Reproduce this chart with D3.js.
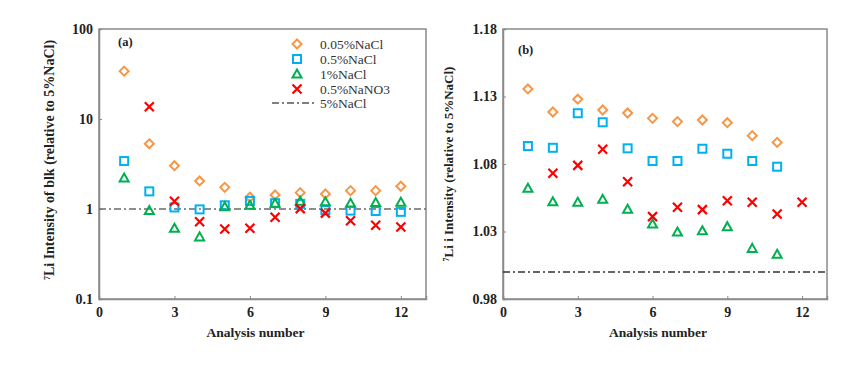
<!DOCTYPE html>
<html><head><meta charset="utf-8">
<script src="https://cdn.jsdelivr.net/npm/d3@7"></script>
<style>body{margin:0;background:#fff}svg{display:block}text{font-family:"Liberation Serif","Times New Roman",serif}</style>
</head><body><svg id="c" width="864" height="368"></svg>
<script>
const analysis = [1,2,3,4,5,6,7,8,9,10,11,12];
const seriesNames = ["0.05%NaCl","0.5%NaCl","1%NaCl","0.5%NaNO3"];
const refName = "5%NaCl";
// Panel (a): relative to 5%NaCl (blank)
const a_005NaCl = [34,5.3,3.03,2.05,1.74,1.35,1.43,1.52,1.47,1.6,1.6,1.79];
const a_05NaCl  = [3.41,1.57,1.04,0.99,1.1,1.23,1.16,1.14,0.97,0.96,0.95,0.93];
const a_1NaCl   = [2.21,0.96,0.61,0.49,1.06,1.1,1.16,1.22,1.2,1.16,1.18,1.19];
const a_05NaNO3 = [null,13.7,1.22,0.72,0.6,0.61,0.81,1.01,0.9,0.74,0.66,0.63];
// Panel (b)
const b_005NaCl = [1.1356,1.1185,1.128,1.12,1.1178,1.1138,1.1114,1.1126,1.1106,1.101,1.096,null];
const b_05NaCl  = [1.0933,1.092,1.1176,1.1109,1.0916,1.0822,1.0822,1.0913,1.0876,1.0822,1.078,null];
const b_1NaCl   = [1.062,1.0521,1.0516,1.0538,1.0464,1.0356,1.0296,1.0306,1.0336,1.0175,1.0131,null];
const b_05NaNO3 = [null,1.0731,1.079,1.0909,1.0669,1.041,1.0479,1.0462,1.0528,1.0516,1.043,1.0516];
const refValue = 1;
const xTicks = [0,3,6,9,12];
const aTicks = [0.1,1,10,100];
const aTickLabels = ["0.1","1","10","100"];
const bTicks = [0.98,1.03,1.08,1.13,1.18];
const bTickLabels = ["0.98","1.03","1.08","1.13","1.18"];

const colors = ["#F79646","#00B0F0","#00B050","#FF0000"];
const shapes = ["diamond","square","triangle","cross"];
const svg = d3.select("#c");

function marker(g, shape, color, x, y){
  if(shape==="diamond"){
    g.append("path").attr("d",`M${x},${y-4.5}L${x+4.5},${y}L${x},${y+4.5}L${x-4.5},${y}Z`)
     .attr("fill","none").attr("stroke",color).attr("stroke-width",2);
  } else if(shape==="square"){
    g.append("rect").attr("x",x-4).attr("y",y-4).attr("width",8).attr("height",8)
     .attr("fill","none").attr("stroke",color).attr("stroke-width",2);
  } else if(shape==="triangle"){
    g.append("path").attr("d",`M${x},${y-4.5}L${x+4.5},${y+3.5}L${x-4.5},${y+3.5}Z`)
     .attr("fill","none").attr("stroke",color).attr("stroke-width",2);
  } else {
    g.append("path").attr("d",`M${x-4.5},${y-4.5}L${x+4.5},${y+4.5}M${x-4.5},${y+4.5}L${x+4.5},${y-4.5}`)
     .attr("fill","none").attr("stroke",color).attr("stroke-width",2.2);
  }
}

function panel(opt){
  const {left,right,top,bottom,y,series,ticks,tickLabels,label,ytitle,ytitleX,ytitleY,ytitleSize,refStroke} = opt;
  const x = d3.scaleLinear().domain([0,13]).range([left,right]);
  y.range([bottom,top]);
  const g = svg.append("g");
  g.append("rect").attr("x",left).attr("y",top).attr("width",right-left).attr("height",bottom-top)
   .attr("fill","none").attr("stroke","#8a8a8a").attr("stroke-width",1.5);
  const xa = d3.axisBottom(x).tickValues(xTicks).tickSize(-3).tickPadding(8).tickFormat(d3.format("d"));
  const xg = g.append("g").attr("transform",`translate(0,${bottom})`).call(xa);
  const ya = d3.axisLeft(y).tickValues(ticks).tickSize(-3).tickPadding(6)
     .tickFormat((d,i)=>tickLabels[i]);
  const yg = g.append("g").attr("transform",`translate(${left},0)`).call(ya);
  [xg,yg].forEach(a=>{
    a.select(".domain").attr("stroke","#8a8a8a").attr("stroke-width",1.5);
    a.selectAll(".tick line").attr("stroke","#8a8a8a").attr("stroke-width",1);
    a.selectAll(".tick text").attr("font-family","Liberation Serif").attr("font-weight","bold")
      .attr("font-size",14).attr("fill","#222");
  });
  g.append("line").attr("x1",left).attr("x2",right).attr("y1",y(refValue)).attr("y2",y(refValue))
   .attr("stroke",refStroke).attr("stroke-width",1.3).attr("stroke-dasharray","7,3,2,3");
  series.forEach((s,si)=>{
    s.forEach((v,i)=>{ if(v!=null) marker(g,shapes[si],colors[si],x(analysis[i]),y(v)); });
  });
  g.append("text").attr("x",left+(opt.labelDx||14)).attr("y",top+(opt.labelDy||20)).text(label)
   .attr("font-weight","bold").attr("font-size",12.5).attr("fill","#222");
  g.append("text").attr("x",(left+right)/2-7).attr("y",bottom+38).attr("text-anchor","middle")
   .text("Analysis number").attr("font-weight","bold").attr("font-size",13.5).attr("fill","#222");
  const yt = g.append("text").attr("transform",`translate(${ytitleX},${ytitleY}) rotate(-90)`)
   .attr("text-anchor","middle").attr("font-weight","bold").attr("font-size",ytitleSize).attr("fill","#222");
  yt.append("tspan").attr("font-size",8).attr("dy",-4).text("7");
  yt.append("tspan").attr("dy",4).text(ytitle);
  return {g,x,y};
}

panel({left:99,right:426,top:29,bottom:299,
  y:d3.scaleLog().domain([0.1,100]),
  series:[a_005NaCl,a_05NaCl,a_1NaCl,a_05NaNO3],
  ticks:aTicks,tickLabels:aTickLabels,label:"(a)",labelDx:19,labelDy:17,
  ytitle:"Li Intensity of blk  (relative to 5%NaCl)",ytitleX:54,ytitleY:160,ytitleSize:14,refStroke:"#6a6a6a"});
panel({left:503,right:827,top:29,bottom:299,
  y:d3.scaleLinear().domain([0.98,1.18]),
  series:[b_005NaCl,b_05NaCl,b_1NaCl,b_05NaNO3],
  ticks:bTicks,tickLabels:bTickLabels,label:"(b)",labelDx:15,labelDy:25,
  ytitle:"Li  i Intensity  (relative to 5%NaCl)",ytitleX:453,ytitleY:164,ytitleSize:13,refStroke:"#333"});

const lg = svg.append("g");
const ly = [44,59,74,89];
seriesNames.forEach((n,i)=>{
  marker(lg,shapes[i],colors[i],297,ly[i]);
  lg.append("text").attr("x",320).attr("y",ly[i]+4.5).text(n).attr("font-size",13.5).attr("fill","#333");
});
lg.append("line").attr("x1",272).attr("x2",314).attr("y1",103).attr("y2",103)
  .attr("stroke","#555").attr("stroke-width",1.3).attr("stroke-dasharray","7,3,2,3");
lg.append("text").attr("x",320).attr("y",107.5).text(refName).attr("font-size",13.5).attr("fill","#333");
</script></body></html>
